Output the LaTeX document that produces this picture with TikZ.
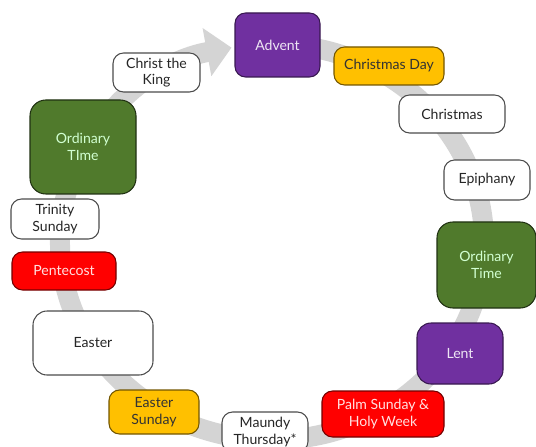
\documentclass[tikz,border=0pt]{standalone}
\usepackage{fontspec}
\setmainfont{Lato}
\usetikzlibrary{arrows.meta}
\definecolor{seasonpurple}{HTML}{7030A0}
\definecolor{seasongold}{HTML}{FFC000}
\definecolor{seasongreen}{HTML}{507A2C}
\definecolor{seasonred}{HTML}{FF0000}
\definecolor{ringgray}{HTML}{D4D4D4}
\begin{document}
\begin{tikzpicture}[
    seasonbox/.style={draw=black!70, line width=0.6pt, rounded corners=6pt, align=center,
      inner sep=1pt, font=\fontsize{8}{9.5}\selectfont},
    whitebox/.style={seasonbox, fill=white, text=black!85},
    purplebox/.style={seasonbox, fill=seasonpurple, draw=seasonpurple!50!black, text=white!88!seasonpurple},
    goldbox/.style={seasonbox, fill=seasongold, draw=seasongold!45!black, text=black!80},
    greenbox/.style={seasonbox, fill=seasongreen, draw=seasongreen!40!black, text=white!82!green, rounded corners=9pt},
    redbox/.style={seasonbox, fill=seasonred, draw=seasonred!45!black, text=white!88!red}
  ]
  \useasboundingbox (0,0) rectangle (10.72,8.92);
  % the year as a ring, running clockwise back to Advent
  \draw[ringgray, line width=0.4cm, -{Triangle[width=0.95cm,length=0.5cm]}]
    (5.44,4.08) ++(80:4.24 and 3.96)
    arc[start angle=80, end angle=-259, x radius=4.24, y radius=3.96];

  \node[purplebox, minimum width=1.70cm, minimum height=1.28cm] (advent) at (5.55,8.02) {Advent};
  \node[goldbox, minimum width=2.20cm, minimum height=0.76cm] (xmasday) at (7.78,7.60) {Christmas Day};
  \node[whitebox, minimum width=2.12cm, minimum height=0.76cm] (xmas) at (9.04,6.64) {Christmas};
  \node[whitebox, minimum width=1.72cm, minimum height=0.80cm] (epiphany) at (9.74,5.32) {Epiphany};
  \node[greenbox, minimum width=1.98cm, minimum height=1.72cm] (ordright) at (9.73,3.62) {Ordinary\\Time};
  \node[purplebox, minimum width=1.72cm, minimum height=1.22cm, rounded corners=8pt] (lent) at (9.20,1.85) {Lent};
  \node[redbox, minimum width=2.44cm, minimum height=0.92cm] (palm) at (7.66,0.64) {Palm Sunday \&\\Holy Week};
  \node[whitebox, minimum width=1.72cm, minimum height=0.80cm] (maundy) at (5.30,0.28) {Maundy\\Thursday*};
  \node[goldbox, minimum width=1.80cm, minimum height=0.88cm] (eastersun) at (3.08,0.68) {Easter\\Sunday};
  \node[whitebox, minimum width=2.40cm, minimum height=1.28cm, rounded corners=8pt] (easter) at (1.86,2.06) {Easter};
  \node[redbox, minimum width=2.08cm, minimum height=0.76cm] (pentecost) at (1.28,3.50) {Pentecost};
  \node[whitebox, minimum width=1.76cm, minimum height=0.80cm] (trinity) at (1.10,4.54) {Trinity\\Sunday};
  \node[greenbox, minimum width=2.12cm, minimum height=1.88cm] (ordleft) at (1.66,5.98) {Ordinary\\TIme};
  \node[whitebox, minimum width=1.74cm, minimum height=0.78cm] (king) at (3.13,7.47) {Christ the\\King};
\end{tikzpicture}
\end{document}
